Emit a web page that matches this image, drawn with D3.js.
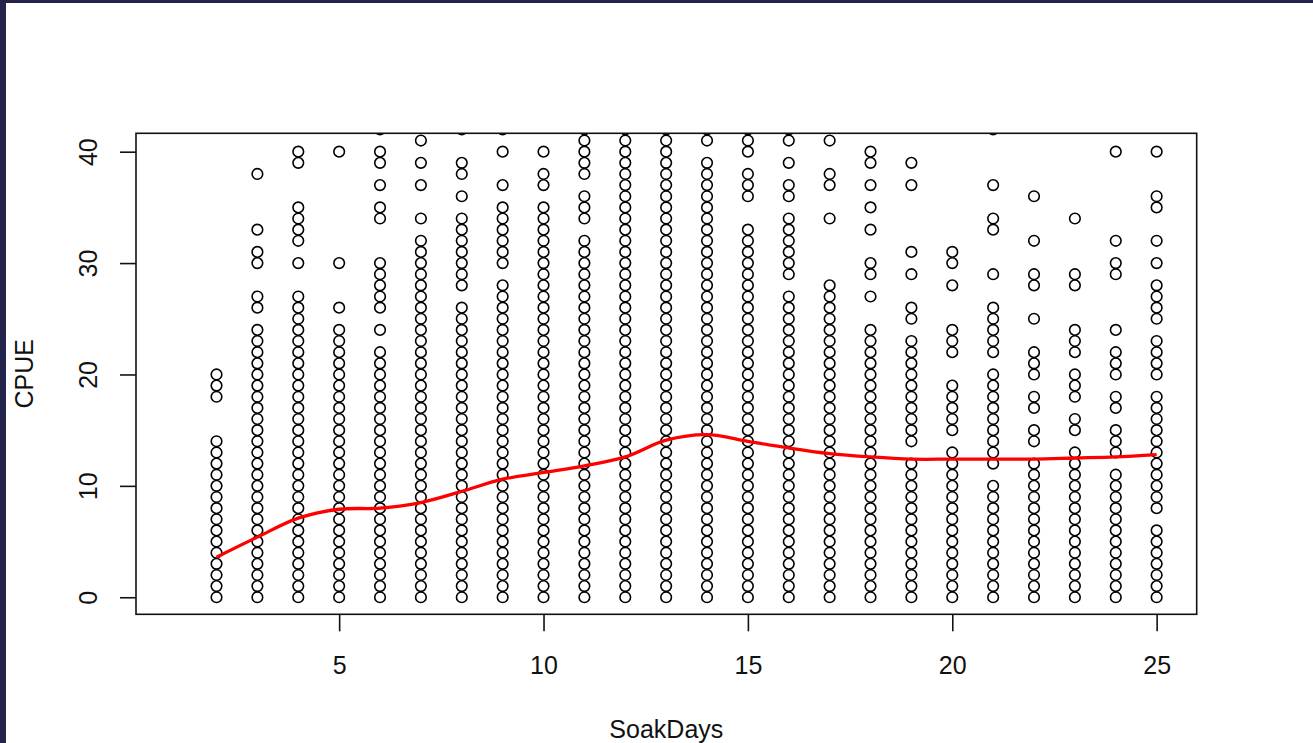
<!DOCTYPE html>
<html>
<head>
<meta charset="utf-8">
<script src="https://cdn.jsdelivr.net/npm/d3@7"></script>
<style>
  html, body { margin: 0; padding: 0; background: #ffffff; }
  svg { display: block; }
  text { font-family: "Liberation Sans", Arial, sans-serif; fill: #111; }
</style>
</head>
<body>
<svg id="chart" width="1313" height="743"></svg>
<script>
// ---- Data ----
const soakDays = [2,3,4,5,6,7,8,9,10,11,12,13,14,15,16,17,18,19,20,21,22,23,24,25];

const cpue02 = [0,1,2,3,4,5,6,7,8,9,10,11,12,13,14,18,19,20];
const cpue03 = [0,1,2,3,4,5,6,7,8,9,10,11,12,13,14,15,16,17,18,19,20,21,22,23,24,26,27,30,31,33,38];
const cpue04 = [0,1,2,3,4,5,6,7,8,9,10,11,12,13,14,15,16,17,18,19,20,21,22,23,24,25,26,27,30,32,33,34,35,39,40];
const cpue05 = [0,1,2,3,4,5,6,7,8,9,10,11,12,13,14,15,16,17,18,19,20,21,22,23,24,26,30,40];
const cpue06 = [0,1,2,3,4,5,6,7,8,9,10,11,12,13,14,15,16,17,18,19,20,21,22,24,26,27,28,29,30,34,35,37,39,40,42];
const cpue07 = [0,1,2,3,4,5,6,7,8,9,10,11,12,13,14,15,16,17,18,19,20,21,22,23,24,25,26,27,28,29,30,31,32,34,37,39,41];
const cpue08 = [0,1,2,3,4,5,6,7,8,9,10,11,12,13,14,15,16,17,18,19,20,21,22,23,24,25,26,28,29,30,31,32,33,34,36,38,39,42];
const cpue09 = [0,1,2,3,4,5,6,7,8,9,10,11,12,13,14,15,16,17,18,19,20,21,22,23,24,25,26,27,28,30,31,32,33,34,35,37,40,42];
const cpue10 = [0,1,2,3,4,5,6,7,8,9,10,11,12,13,14,15,16,17,18,19,20,21,22,23,24,25,26,27,28,29,30,31,32,33,34,35,37,38,40];
const cpue11 = [0,1,2,3,4,5,6,7,8,9,10,11,12,13,14,15,16,17,18,19,20,21,22,23,24,25,26,27,28,29,30,31,32,34,35,36,38,39,40,41,42];
const cpue12 = [0,1,2,3,4,5,6,7,8,9,10,11,12,13,14,15,16,17,18,19,20,21,22,23,24,25,26,27,28,29,30,31,32,33,34,35,36,37,38,39,40,41,42];
const cpue13 = [0,1,2,3,4,5,6,7,8,9,10,11,12,13,14,15,16,17,18,19,20,21,22,23,24,25,26,27,28,29,30,31,32,33,34,35,36,37,38,39,40,41,42];
const cpue14 = [0,1,2,3,4,5,6,7,8,9,10,11,12,13,14,15,16,17,18,19,20,21,22,23,24,25,26,27,28,29,30,31,32,33,34,35,36,37,38,39,41,42];
const cpue15 = [0,1,2,3,4,5,6,7,8,9,10,11,12,13,14,15,16,17,18,19,20,21,22,23,24,25,26,27,28,29,30,31,32,33,36,37,38,40,41,42];
const cpue16 = [0,1,2,3,4,5,6,7,8,9,10,11,12,13,14,15,16,17,18,19,20,21,22,23,24,25,26,27,29,30,31,32,33,34,36,37,39,41,42];
const cpue17 = [0,1,2,3,4,5,6,7,8,9,10,11,12,13,14,15,16,17,18,19,20,21,22,23,24,25,26,27,28,34,37,38,41];
const cpue18 = [0,1,2,3,4,5,6,7,8,9,10,11,12,13,14,15,16,17,18,19,20,21,22,23,24,27,29,30,33,35,37,39,40];
const cpue19 = [0,1,2,3,4,5,6,7,8,9,10,11,12,14,15,16,17,18,19,20,21,22,23,25,26,29,31,37,39];
const cpue20 = [0,1,2,3,4,5,6,7,8,9,10,11,12,13,15,16,17,18,19,22,23,24,28,30,31];
const cpue21 = [0,1,2,3,4,5,6,7,8,9,10,12,13,14,15,16,17,18,19,20,22,23,24,25,26,29,33,34,37,42];
const cpue22 = [0,1,2,3,4,5,6,7,8,9,10,11,12,14,15,17,18,20,21,22,25,28,29,32,36];
const cpue23 = [0,1,2,3,4,5,6,7,8,9,10,11,12,13,15,16,18,19,20,22,23,24,28,29,34];
const cpue24 = [0,1,2,3,4,5,6,7,8,9,10,11,13,14,15,17,18,20,21,22,24,29,30,32,40];
const cpue25 = [0,1,2,3,4,5,6,8,9,10,11,12,13,14,15,16,17,18,20,21,22,23,25,26,27,28,30,32,35,36,40];

// smoothed (red) curve, one value per soak day
const smoothCPUE = [3.6,5.4,7.1,7.9,8.0,8.5,9.5,10.6,11.2,11.8,12.6,14.1,14.6,14.0,13.4,12.9,12.6,12.4,12.4,12.4,12.4,12.5,12.6,12.8];

const xTicks = [5,10,15,20,25];
const yTicks = [0,10,20,30,40];
const xTitle = "SoakDays";
const yTitle = "CPUE";

// ---- Build ----
const columns = [cpue02,cpue03,cpue04,cpue05,cpue06,cpue07,cpue08,cpue09,cpue10,cpue11,cpue12,cpue13,
                 cpue14,cpue15,cpue16,cpue17,cpue18,cpue19,cpue20,cpue21,cpue22,cpue23,cpue24,cpue25];
const points = [];
soakDays.forEach((d, i) => columns[i].forEach(v => points.push({x: d, y: v})));
const smooth = soakDays.map((d, i) => ({x: d, y: smoothCPUE[i]}));

const svg = d3.select("#chart");
const W = 1313, H = 743;
const box = {left: 136, right: 1196.7, top: 133.3, bottom: 614.3};

svg.append("rect").attr("width", W).attr("height", H).attr("fill", "#ffffff");
// dark frame of the screenshot
svg.append("rect").attr("x", 0).attr("y", 0).attr("width", W).attr("height", 3).attr("fill", "#22244c");
svg.append("rect").attr("x", 0).attr("y", 0).attr("width", 6).attr("height", H).attr("fill", "#22244c");

const x = d3.scaleLinear().domain([0.03, 25.98]).range([box.left, box.right]);
const y = d3.scaleLinear().domain([-1.53, 41.65]).range([box.bottom, box.top]);

svg.append("defs").append("clipPath").attr("id", "plotclip")
  .append("rect")
  .attr("x", box.left).attr("y", box.top)
  .attr("width", box.right - box.left).attr("height", box.bottom - box.top);

const plot = svg.append("g").attr("clip-path", "url(#plotclip)");

plot.selectAll("circle.pt").data(points).join("circle")
  .attr("class", "pt")
  .attr("cx", d => x(d.x))
  .attr("cy", d => y(d.y))
  .attr("r", 5.3)
  .attr("fill", "none")
  .attr("stroke", "#000")
  .attr("stroke-width", 1.6);

plot.append("path").datum(smooth)
  .attr("fill", "none")
  .attr("stroke", "#ff0000")
  .attr("stroke-width", 3.3)
  .attr("stroke-linejoin", "round")
  .attr("d", d3.line().x(d => x(d.x)).y(d => y(d.y)).curve(d3.curveCatmullRom.alpha(0.5)));

// box
svg.append("rect")
  .attr("x", box.left).attr("y", box.top)
  .attr("width", box.right - box.left).attr("height", box.bottom - box.top)
  .attr("fill", "none").attr("stroke", "#111").attr("stroke-width", 1.6);

// x axis
const gx = svg.append("g").attr("transform", `translate(0,${box.bottom})`)
  .call(d3.axisBottom(x).tickValues(xTicks).tickSize(17).tickPadding(25).tickFormat(d3.format("d")));
gx.select(".domain").remove();
gx.selectAll(".tick line").attr("stroke", "#111").attr("stroke-width", 1.6);
gx.selectAll(".tick text").attr("font-size", 25).attr("fill", "#111")
  .style("font-family", '"Liberation Sans", Arial, sans-serif');

// y axis
const gy = svg.append("g").attr("transform", `translate(${box.left},0)`)
  .call(d3.axisLeft(y).tickValues(yTicks).tickSize(16).tickFormat(d3.format("d")));
gy.select(".domain").remove();
gy.selectAll(".tick line").attr("stroke", "#111").attr("stroke-width", 1.6);
gy.selectAll(".tick text")
  .attr("font-size", 25).attr("fill", "#111")
  .style("font-family", '"Liberation Sans", Arial, sans-serif')
  .attr("text-anchor", "middle")
  .attr("x", 0).attr("y", -39).attr("dy", 0)
  .attr("transform", "rotate(-90)");

// titles
svg.append("text")
  .attr("x", (box.left + box.right) / 2).attr("y", 738)
  .attr("text-anchor", "middle").attr("font-size", 25)
  .text(xTitle);

svg.append("text")
  .attr("transform", `translate(33,${(box.top + box.bottom) / 2}) rotate(-90)`)
  .attr("text-anchor", "middle").attr("font-size", 25)
  .text(yTitle);
</script>
</body>
</html>
